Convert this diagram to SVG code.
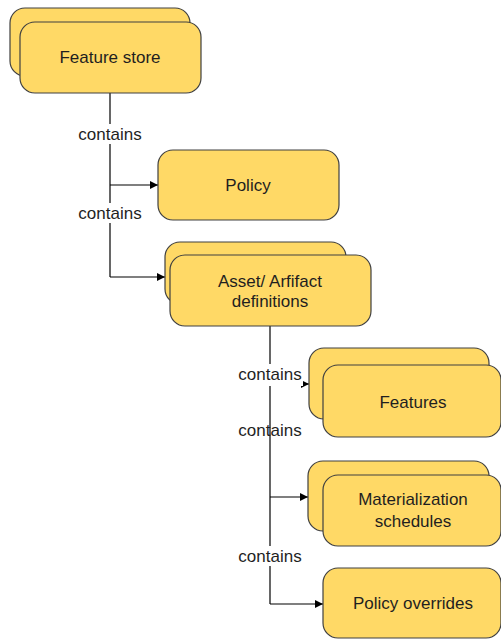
<svg xmlns="http://www.w3.org/2000/svg" width="501" height="639" viewBox="0 0 501 639">
<defs>
<style>
.box{fill:#FFD966;stroke:#404040;stroke-width:1.2}
.t{font-family:"Liberation Sans",Arial,sans-serif;font-size:17px;fill:#1f1f1f;text-anchor:middle}
.ln{fill:none;stroke:#000;stroke-width:1.2}
.lb{fill:#fff}
</style>
<marker id="ah" markerWidth="8" markerHeight="8" refX="8" refY="4" orient="auto" markerUnits="userSpaceOnUse">
<path d="M0,0 L8,4 L0,8 z" fill="#000"/>
</marker>
</defs>
<rect width="501" height="639" fill="#fff"/>
<g id="connectors">
<path class="ln" d="M110,93 V277"/>
<path class="ln" d="M110,185 H158" marker-end="url(#ah)"/>
<path class="ln" d="M110,277 H165" marker-end="url(#ah)"/>
<path class="ln" d="M270,326 V604"/>
<path class="ln" d="M270,384 H309" marker-end="url(#ah)"/>
<path class="ln" d="M270,497 H308" marker-end="url(#ah)"/>
<path class="ln" d="M270,604 H323" marker-end="url(#ah)"/>
<rect class="lb" x="77" y="124" width="66" height="20"/>
<text class="t" x="110" y="140">contains</text>
<rect class="lb" x="77" y="203" width="66" height="20"/>
<text class="t" x="110" y="219">contains</text>
<rect class="lb" x="237" y="364" width="66" height="22"/>
<text class="t" x="270" y="380">contains</text>
<text class="t" x="270" y="436">contains</text>
<rect class="lb" x="237" y="546" width="66" height="20"/>
<text class="t" x="270" y="562">contains</text>
</g>
<g id="feature-store">
<rect class="box" x="10" y="8" width="180" height="68" rx="15"/>
<rect class="box" x="20" y="22" width="181" height="71" rx="15"/>
<text class="t" x="110" y="63">Feature store</text>
</g>
<g id="policy">
<rect class="box" x="158" y="150" width="181" height="70" rx="15"/>
<text class="t" x="248" y="191">Policy</text>
</g>
<g id="asset-definitions">
<rect class="box" x="165" y="242" width="181" height="62" rx="15"/>
<rect class="box" x="170" y="255" width="201" height="71" rx="15"/>
<text class="t" x="270" y="287">Asset/ Arfifact</text>
<text class="t" x="270" y="307">definitions</text>
</g>
<g id="features">
<rect class="box" x="309" y="348" width="180" height="71" rx="15"/>
<rect class="box" x="323" y="365" width="178" height="72" rx="15"/>
<text class="t" x="413" y="408">Features</text>
</g>
<g id="materialization-schedules">
<rect class="box" x="308" y="461" width="181" height="70" rx="15"/>
<rect class="box" x="323" y="475" width="178" height="71" rx="15"/>
<text class="t" x="413" y="505">Materialization</text>
<text class="t" x="413" y="527">schedules</text>
</g>
<g id="policy-overrides">
<rect class="box" x="323" y="568" width="178" height="70" rx="15"/>
<text class="t" x="413" y="609">Policy overrides</text>
</g>
</svg>
